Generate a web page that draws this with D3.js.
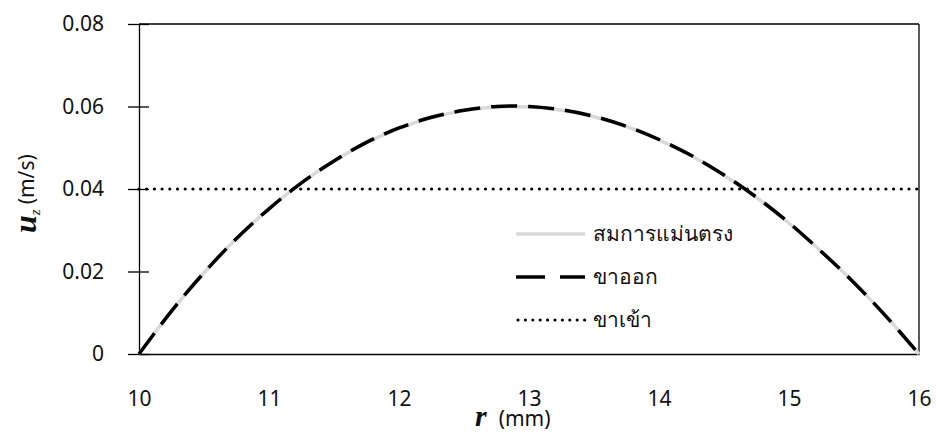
<!DOCTYPE html>
<html>
<head>
<meta charset="utf-8">
<script src="https://cdn.jsdelivr.net/npm/d3@7/dist/d3.min.js"></script>
<style>
  html, body { margin: 0; padding: 0; background: #fff; }
  svg { display: block; }
</style>
</head>
<body>
<svg id="chart" width="936" height="433"></svg>
<script>
// ---- data ----
const rValues = [10, 10.25, 10.5, 10.75, 11, 11.25, 11.5, 11.75, 12, 12.25, 12.5, 12.75, 13, 13.25, 13.5, 13.75, 14, 14.25, 14.5, 14.75, 15, 15.25, 15.5, 15.75, 16];
const exactValues = [0, 0.0104, 0.0197, 0.0280, 0.0352, 0.0415, 0.0468, 0.0512, 0.0547, 0.0573, 0.0590, 0.0599, 0.0599, 0.0591, 0.0575, 0.0551, 0.0519, 0.0480, 0.0433, 0.0379, 0.0317, 0.0248, 0.0173, 0.0090, 0];
const outletValues = [0, 0.0104, 0.0197, 0.0280, 0.0352, 0.0415, 0.0468, 0.0513, 0.0548, 0.0574, 0.0591, 0.0600, 0.0600, 0.0592, 0.0576, 0.0552, 0.0520, 0.0481, 0.0434, 0.0380, 0.0318, 0.0248, 0.0173, 0.0090, 0];
const inletR = [10, 16];
const inletValues = [0.04, 0.04];
const xTicks = [10, 11, 12, 13, 14, 15, 16];
const yTicks = [0, 0.02, 0.04, 0.06, 0.08];
const yTickLabels = ["0", "0.02", "0.04", "0.06", "0.08"];
const legendLabels = ["สมการแม่นตรง", "ขาออก", "ขาเข้า"];

// ---- layout ----
const L = 139, R = 919, T = 24, B = 354;
const svg = d3.select("#chart");
const x = d3.scaleLinear().domain([10, 16]).range([L, R]);
const y = d3.scaleLinear().domain([0, 0.08]).range([B, T]);
const fontUI = '"Noto Sans", "DejaVu Sans", sans-serif';
const textCol = "#111";

// frame (top and right)
svg.append("line").attr("x1", L).attr("x2", R).attr("y1", T).attr("y2", T).attr("stroke", "#000").attr("stroke-width", 1.3);
svg.append("line").attr("x1", R).attr("x2", R).attr("y1", T).attr("y2", B).attr("stroke", "#000").attr("stroke-width", 1.3);

// y axis with cross ticks
const yAxis = d3.axisLeft(y).tickValues(yTicks).tickFormat((d, i) => yTickLabels[i]).tickSizeInner(11).tickSizeOuter(0).tickPadding(24);
const gy = svg.append("g").attr("transform", `translate(${L},0)`).call(yAxis);
gy.select(".domain").attr("stroke", "#000").attr("stroke-width", 1.3);
gy.selectAll(".tick line").attr("stroke", "#000").attr("stroke-width", 1.3).attr("x2", -11).attr("x1", 10);
gy.selectAll(".tick text").attr("font-size", 21).attr("fill", textCol).attr("font-family", fontUI);

// x axis (no ticks)
const xAxis = d3.axisBottom(x).tickValues(xTicks).tickFormat(d3.format("d")).tickSize(0).tickPadding(37);
const gx = svg.append("g").attr("transform", `translate(0,${B})`).call(xAxis);
gx.select(".domain").attr("stroke", "#000").attr("stroke-width", 1.3);
gx.selectAll(".tick text").attr("font-size", 21).attr("fill", textCol).attr("font-family", fontUI);

// ---- series ----
const line = d3.line().curve(d3.curveCatmullRom.alpha(0.5));
const exactPts = rValues.map((r, i) => [x(r), y(exactValues[i])]);
const outletPts = rValues.map((r, i) => [x(r), y(outletValues[i])]);
const inletPts = inletR.map((r, i) => [x(r), y(inletValues[i])]);

svg.append("path").attr("d", line(exactPts)).attr("fill", "none").attr("stroke", "#d9d9d9").attr("stroke-width", 3.5);
svg.append("path").attr("d", line(outletPts)).attr("fill", "none").attr("stroke", "#000").attr("stroke-width", 3.5).attr("stroke-dasharray", "26,11");
svg.append("path").attr("d", d3.line()(inletPts)).attr("fill", "none").attr("stroke", "#000").attr("stroke-width", 3.2).attr("stroke-linecap", "round").attr("stroke-dasharray", "0,7.7");

// ---- legend ----
const legY = [234, 277, 320];
const lg = svg.append("g");
lg.append("line").attr("x1", 516).attr("x2", 585).attr("y1", legY[0]).attr("y2", legY[0]).attr("stroke", "#d9d9d9").attr("stroke-width", 3.5);
lg.append("line").attr("x1", 516).attr("x2", 585).attr("y1", legY[1]).attr("y2", legY[1]).attr("stroke", "#000").attr("stroke-width", 3.5).attr("stroke-dasharray", "29,15");
lg.append("line").attr("x1", 518).attr("x2", 585).attr("y1", legY[2]).attr("y2", legY[2]).attr("stroke", "#000").attr("stroke-width", 3.2).attr("stroke-linecap", "round").attr("stroke-dasharray", "0,7.4");
legendLabels.forEach((t, i) => {
  lg.append("text").attr("x", 593).attr("y", legY[i]).attr("dy", "0.35em")
    .attr("font-family", fontUI).attr("font-size", 21).attr("fill", textCol).text(t);
});

// ---- axis titles ----
const xt = svg.append("text").attr("x", 475).attr("y", 426).attr("fill", textCol);
xt.append("tspan").attr("font-family", '"Liberation Serif", serif').attr("font-style", "italic").attr("font-weight", "bold").attr("font-size", 30).text("r");
xt.append("tspan").attr("font-family", fontUI).attr("font-size", 21).attr("dx", 12).text("(mm)");

const yt = svg.append("text").attr("transform", "translate(36,233) rotate(-90)").attr("fill", textCol);
yt.append("tspan").attr("font-family", '"Liberation Serif", serif').attr("font-style", "italic").attr("font-weight", "bold").attr("font-size", 32).text("u");
yt.append("tspan").attr("font-family", '"Liberation Serif", serif').attr("font-style", "italic").attr("font-size", 15).attr("dy", 4).text("z");
yt.append("tspan").attr("font-family", fontUI).attr("font-size", 21).attr("dx", 5).attr("dy", -6).text("(m/s)");
</script>
</body>
</html>
